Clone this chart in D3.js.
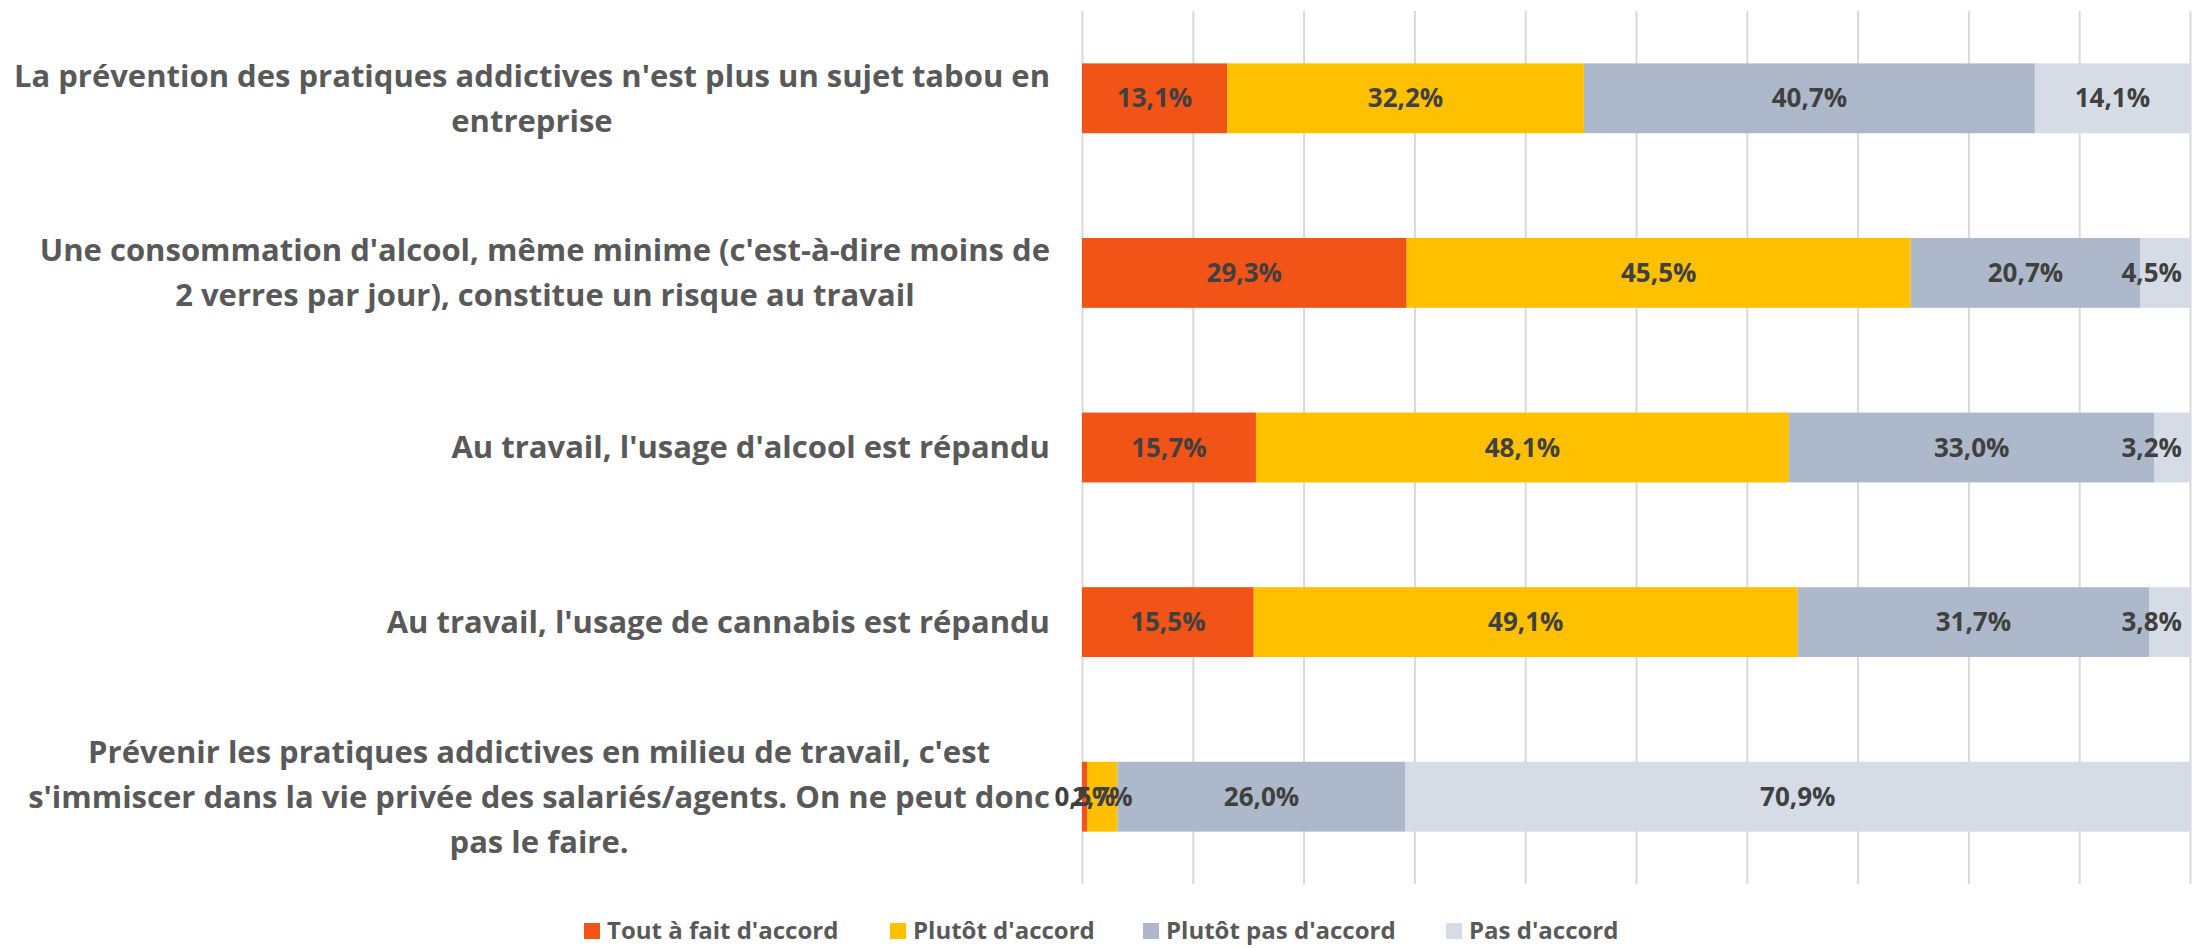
<!DOCTYPE html>
<html>
<head>
<meta charset="utf-8">
<script src="https://cdn.jsdelivr.net/npm/d3@7"></script>
<style>
  body { margin: 0; background: #fff; }
  text { font-family: "Open Sans", Carlito, Lato, sans-serif; font-weight: 700; }
</style>
</head>
<body>
<svg id="chart" width="2192" height="948"></svg>
<script>
// categories, one array of lines per label (wrapped as in the original)
const categories = [
  ["La prévention des pratiques addictives n'est plus un sujet tabou en", "entreprise"],
  ["Une consommation d'alcool, même minime (c'est-à-dire moins de", "2 verres par jour), constitue un risque au travail"],
  ["Au travail, l'usage d'alcool est répandu"],
  ["Au travail, l'usage de cannabis est répandu"],
  ["Prévenir les pratiques addictives en milieu de travail, c'est", "s'immiscer dans la vie privée des salariés/agents. On ne peut donc", "pas le faire."]
];
const seriesNames = ["Tout à fait d'accord", "Plutôt d'accord", "Plutôt pas d'accord", "Pas d'accord"];
const toutAFait  = [13.1, 29.3, 15.7, 15.5, 0.5];
const plutot     = [32.2, 45.5, 48.1, 49.1, 2.7];
const plutotPas  = [40.7, 20.7, 33.0, 31.7, 26.0];
const pasDAccord = [14.1, 4.5, 3.2, 3.8, 70.9];
const xTicks = [0, 10, 20, 30, 40, 50, 60, 70, 80, 90, 100];
const colors = ["#F25316", "#FFC000", "#ADB9CA", "#D6DCE5"];

const width = 2192, height = 948;
const margin = {top: 11, right: 2, bottom: 64, left: 1082};
const innerW = width - margin.left - margin.right;
const innerH = height - margin.top - margin.bottom;

const table = categories.map((c, i) => ({
  idx: i,
  [seriesNames[0]]: toutAFait[i],
  [seriesNames[1]]: plutot[i],
  [seriesNames[2]]: plutotPas[i],
  [seriesNames[3]]: pasDAccord[i]
}));

const stacked = d3.stack().keys(seriesNames)(table);

const svg = d3.select("#chart");

const x = d3.scaleLinear().domain([0, 100]).range([0, innerW]);
const y = d3.scaleBand()
  .domain(categories.map((c, i) => i))
  .range([0, innerH])
  .paddingInner(0.6)
  .paddingOuter(0.3);

svg.append("defs").append("clipPath").attr("id", "plotClip")
  .append("rect").attr("x", 0).attr("y", -5).attr("width", innerW).attr("height", innerH + 10);

const g = svg.append("g").attr("transform", `translate(${margin.left},${margin.top})`);

// vertical gridlines
g.append("g")
  .attr("class", "grid")
  .call(d3.axisBottom(x).tickValues(xTicks).tickSize(innerH).tickFormat(""))
  .call(s => s.select(".domain").remove())
  .call(s => s.selectAll("line").attr("stroke", "#D9D9D9").attr("stroke-width", 2));

// bars
const bars = g.append("g").attr("clip-path", "url(#plotClip)");
bars.selectAll("g.series")
  .data(stacked)
  .enter().append("g")
  .attr("class", "series")
  .attr("fill", (d, i) => colors[i])
  .selectAll("rect")
  .data(d => d)
  .enter().append("rect")
  .attr("x", d => x(d[0]))
  .attr("y", d => y(d.data.idx))
  .attr("width", d => x(d[1]) - x(d[0]))
  .attr("height", y.bandwidth());

// value labels
const fmt = v => v.toFixed(1).replace(".", ",") + "%";
const labels = g.append("g");
stacked.forEach(s => {
  s.forEach(d => {
    const v = d.data[s.key];
    const t = labels.append("text")
      .attr("y", y(d.data.idx) + y.bandwidth() / 2)
      .attr("dy", "0.35em")
      .attr("text-anchor", "middle")
      .attr("fill", "#404040")
      .attr("font-size", 26)
      .text(fmt(v));
    let cx = (x(d[0]) + x(Math.min(d[1], 100))) / 2;
    const w = t.node().getComputedTextLength();
    if (cx + w / 2 > innerW - 8) cx = innerW - 8 - w / 2;
    t.attr("x", cx);
  });
});

// category labels: lines centred within a block right-aligned to the axis
const rightEdge = margin.left - 32;
const lineH = 45;
categories.forEach((lines, i) => {
  const cy = margin.top + y(i) + y.bandwidth() / 2;
  const grp = svg.append("g");
  const texts = lines.map((ln, j) => grp.append("text")
    .attr("y", cy + (j - (lines.length - 1) / 2) * lineH)
    .attr("dy", "0.35em")
    .attr("text-anchor", "middle")
    .attr("fill", "#595959")
    .attr("font-size", 31)
    .text(ln));
  const maxW = d3.max(texts, t => t.node().getComputedTextLength());
  texts.forEach(t => t.attr("x", rightEdge - maxW / 2));
});

// legend
const legendX = [584, 890, 1143, 1446];
const legend = svg.append("g").attr("transform", `translate(0,931)`);
seriesNames.forEach((name, i) => {
  legend.append("rect")
    .attr("x", legendX[i]).attr("y", -8)
    .attr("width", 16).attr("height", 16)
    .attr("fill", colors[i]);
  legend.append("text")
    .attr("x", legendX[i] + 23).attr("y", 0)
    .attr("dy", "0.35em")
    .attr("fill", "#595959")
    .attr("font-size", 24)
    .text(name);
});
</script>
</body>
</html>
